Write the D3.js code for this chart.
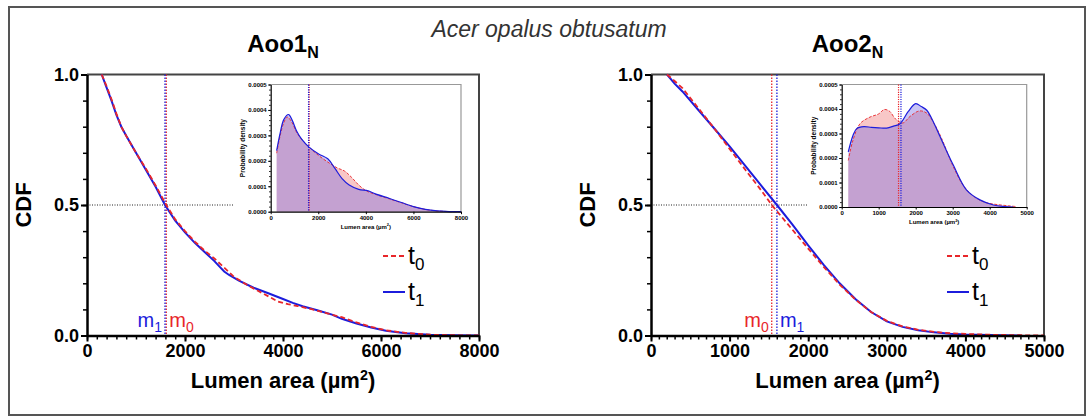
<!DOCTYPE html>
<html>
<head>
<meta charset="utf-8">
<script src="https://cdn.jsdelivr.net/npm/d3@7"></script>
<style>
body { margin: 0; background: #fff; }
svg { display: block; font-family: "Liberation Sans", Arial, sans-serif; }
</style>
</head>
<body>
<svg id="chart" width="1086" height="416"></svg>
<script>
// ---- data ----
const speciesTitle = "Acer opalus obtusatum";
const panelNames = ["Aoo1", "Aoo2"];
const seriesNames = ["0", "1"];   // t0, t1

// 1 - CDF of lumen area, [area, value]
const aoo1CdfT0 = [[300,1.0],[400,0.955],[500,0.905],[600,0.85],[700,0.80],[800,0.765],[1000,0.70],[1200,0.64],[1400,0.575],[1618,0.50],[1800,0.445],[2000,0.40],[2200,0.36],[2400,0.325],[2600,0.295],[2800,0.26],[3000,0.225],[3300,0.19],[3600,0.16],[3900,0.13],[4100,0.12],[4300,0.113],[4600,0.10],[4900,0.085],[5200,0.07],[5500,0.05],[5800,0.033],[6100,0.02],[6500,0.01],[7000,0.003],[7500,0.001],[8000,0]];
const aoo1CdfT1 = [[300,1.0],[400,0.95],[500,0.90],[600,0.845],[700,0.80],[800,0.765],[1000,0.70],[1200,0.635],[1400,0.57],[1592,0.50],[1800,0.44],[2000,0.395],[2200,0.355],[2400,0.32],[2600,0.285],[2700,0.265],[2800,0.245],[2900,0.232],[3100,0.21],[3400,0.183],[3700,0.162],[4000,0.14],[4200,0.125],[4400,0.112],[4700,0.097],[5000,0.08],[5200,0.064],[5500,0.046],[5800,0.031],[6100,0.018],[6500,0.009],[7000,0.003],[7500,0.001],[8000,0]];
const aoo2CdfT0 = [[204,1.0],[300,0.975],[400,0.948],[600,0.872],[800,0.795],[1000,0.715],[1200,0.635],[1400,0.557],[1536,0.50],[1800,0.405],[2000,0.333],[2200,0.262],[2400,0.195],[2600,0.138],[2800,0.09],[3000,0.056],[3200,0.035],[3400,0.022],[3600,0.014],[3800,0.009],[4000,0.006],[4300,0.003],[4700,0.001],[5000,0]];
const aoo2CdfT1 = [[204,1.0],[300,0.965],[400,0.935],[600,0.865],[800,0.795],[1000,0.725],[1200,0.65],[1400,0.575],[1602,0.50],[1800,0.425],[2000,0.345],[2200,0.27],[2400,0.20],[2600,0.14],[2800,0.09],[3000,0.054],[3200,0.033],[3400,0.02],[3600,0.012],[3800,0.007],[4000,0.004],[4300,0.002],[4700,0]];

// medians [t0, t1]
const aoo1Medians = [1618, 1592];
const aoo2Medians = [1536, 1602];

// probability density (insets), [area, density]
const aoo1PdfT0 = [[250,0.00023],[400,0.00030],[550,0.00035],[700,0.000372],[900,0.00035],[1100,0.00031],[1300,0.000285],[1600,0.000255],[2000,0.000222],[2400,0.000195],[2800,0.000172],[3100,0.00016],[3400,0.000135],[3700,0.000105],[4000,0.000083],[4400,0.000068],[5000,0.00005],[5500,0.000035],[6000,0.00002],[6500,0.000009],[7000,0.000003],[7500,0.0000005],[8000,0]];
const aoo1PdfT1 = [[250,0.00024],[400,0.00031],[550,0.000362],[750,0.000382],[900,0.00036],[1100,0.000315],[1300,0.000285],[1600,0.000255],[2000,0.000228],[2400,0.000208],[2700,0.00017],[3000,0.00013],[3300,0.000105],[3700,0.000088],[4100,0.000082],[4400,0.00007],[5000,0.000052],[5500,0.000036],[6000,0.00002],[6500,0.000009],[7000,0.000003],[7500,0.0000005],[8000,0]];
const aoo2PdfT0 = [[178,0.00019],[300,0.00027],[495,0.00034],[765,0.000367],[1000,0.00038],[1150,0.000398],[1300,0.00039],[1450,0.00036],[1650,0.000343],[1850,0.00037],[2100,0.000392],[2300,0.000383],[2500,0.00034],[2700,0.00028],[3000,0.00017],[3300,0.000085],[3600,0.00004],[3900,0.000018],[4200,0.00001],[4500,0.000005],[4700,0.000002]];
const aoo2PdfT1 = [[178,0.000225],[300,0.00029],[405,0.00032],[600,0.000328],[800,0.000325],[1000,0.000323],[1216,0.000322],[1400,0.00033],[1576,0.00034],[1800,0.00039],[2000,0.000422],[2150,0.00041],[2300,0.000395],[2500,0.00034],[2660,0.000287],[3016,0.000171],[3376,0.000069],[3736,0.000029],[4100,0.000008],[4400,0.000002],[4640,0]];

// ticks
const cdfTicks = [0, 0.5, 1.0];
const aoo1XTicks = [0, 2000, 4000, 6000, 8000];
const aoo2XTicks = [0, 1000, 2000, 3000, 4000, 5000];
const pdfTicks = [0, 0.0001, 0.0002, 0.0003, 0.0004, 0.0005];
const halfLineEnd = [3000, 2000];

const RED = "#e8262a";
const BLUE = "#1c1cdc";

const svg = d3.select("#chart");

// outer frame
svg.append("rect")
    .attr("x", 9).attr("y", 7)
    .attr("width", 1076).attr("height", 408)
    .attr("fill", "none")
    .attr("stroke", "#555")
    .attr("stroke-width", 2);

svg.append("text")
    .attr("x", 549).attr("y", 37)
    .attr("text-anchor", "middle")
    .style("font-size", "23px")
    .style("font-style", "italic")
    .style("fill", "#333")
    .text(speciesTitle);

function addSub(sel, main, sub, subSize, dy)
{
    sel.append("tspan").text(main);
    sel.append("tspan").attr("dy", dy).style("font-size", subSize + "px").text(sub);
}

function addAreaLabel(sel, size)
{
    sel.append("tspan").text("Lumen area (µm");
    sel.append("tspan").attr("dy", -size * 0.38).style("font-size", (size * 0.65) + "px").text("2");
    sel.append("tspan").attr("dy", size * 0.38).text(")");
}

function drawPanel(p)
{
    const top = 74.5, bottom = 335.5;
    const x = d3.scaleLinear().domain([0, p.xMax]).range([p.left, p.right]);
    const y = d3.scaleLinear().domain([0, 1]).range([bottom, top]);

    const g = svg.append("g");

    // top/right frame
    g.append("path")
        .attr("d", `M${p.left},${top}H${p.right}V${bottom}`)
        .attr("fill", "none")
        .attr("stroke", "#444")
        .attr("stroke-width", 2);

    // title
    const title = g.append("text")
        .attr("x", (p.left + p.right) / 2).attr("y", 52)
        .attr("text-anchor", "middle")
        .style("font-size", "24px")
        .style("font-weight", "bold");
    addSub(title, p.name, "N", 16, 6);

    // 0.5 reference line
    g.append("line")
        .attr("x1", x(0)).attr("x2", x(p.halfEnd))
        .attr("y1", y(0.5)).attr("y2", y(0.5))
        .attr("stroke", "#222")
        .attr("stroke-width", 1)
        .attr("stroke-dasharray", "1,1.5");

    // medians
    const medCols = [RED, BLUE];
    p.medians.forEach((m, i) =>
    {
        g.append("line")
            .attr("x1", x(m)).attr("x2", x(m))
            .attr("y1", top).attr("y2", bottom)
            .attr("stroke", medCols[i])
            .attr("stroke-width", 1.3)
            .attr("stroke-dasharray", "1.5,1.5");
    });
    const order = p.medians[0] <= p.medians[1] ? [0, 1] : [1, 0];
    order.forEach((idx, k) =>
    {
        const t = g.append("text")
            .attr("x", x(p.medians[idx]) + (k === 0 ? -3 : 3))
            .attr("y", 327)
            .attr("text-anchor", k === 0 ? "end" : "start")
            .style("font-size", "20px")
            .style("fill", medCols[idx]);
        addSub(t, "m", seriesNames[idx], 14, 5);
    });

    // cdf lines
    const line = d3.line().x(d => x(d[0])).y(d => y(d[1]));
    g.append("path")
        .datum(p.cdf[1])
        .attr("d", line)
        .attr("fill", "none")
        .attr("stroke", BLUE)
        .attr("stroke-width", 2);
    g.append("path")
        .datum(p.cdf[0])
        .attr("d", line)
        .attr("fill", "none")
        .attr("stroke", RED)
        .attr("stroke-width", 1.8)
        .attr("stroke-dasharray", "5,3");

    // axes
    const xMinor = d3.range(0, p.xMax + 1, p.xMinor);
    g.append("g")
        .attr("transform", `translate(0,${bottom})`)
        .call(d3.axisBottom(x).tickValues(xMinor).tickSize(4).tickFormat(""))
        .call(a => a.select(".domain").remove())
        .selectAll("line").attr("stroke-width", 1.5);
    const xa = g.append("g")
        .attr("transform", `translate(0,${bottom})`)
        .call(d3.axisBottom(x).tickValues(p.xTicks).tickSize(6).tickSizeOuter(0).tickPadding(3)
            .tickFormat(d3.format("d")));
    xa.select(".domain").attr("stroke-width", 2.5);
    xa.selectAll("line").attr("stroke-width", 2);
    xa.selectAll("text")
        .style("font-size", "18px")
        .style("font-weight", "bold")
        .attr("font-family", null);

    g.append("g")
        .attr("transform", `translate(${p.left},0)`)
        .call(d3.axisLeft(y).tickValues(d3.range(0, 1.01, 0.1)).tickSize(4).tickFormat(""))
        .call(a => a.select(".domain").remove())
        .selectAll("line").attr("stroke-width", 1.5);
    const ya = g.append("g")
        .attr("transform", `translate(${p.left},0)`)
        .call(d3.axisLeft(y).tickValues(cdfTicks).tickSize(6).tickSizeOuter(0).tickPadding(2)
            .tickFormat(d3.format(".1f")));
    ya.select(".domain").attr("stroke-width", 2.5);
    ya.selectAll("line").attr("stroke-width", 2);
    ya.selectAll("text")
        .style("font-size", "18px")
        .style("font-weight", "bold")
        .attr("font-family", null);

    // axis titles
    const xt = g.append("text")
        .attr("x", (p.left + p.right) / 2).attr("y", 388)
        .attr("text-anchor", "middle")
        .style("font-size", "22px")
        .style("font-weight", "bold");
    addAreaLabel(xt, 22);

    g.append("text")
        .attr("transform", `translate(${p.left - 56},${(top + bottom) / 2}) rotate(-90)`)
        .attr("text-anchor", "middle")
        .style("font-size", "22px")
        .style("font-weight", "bold")
        .text("CDF");

    // legend
    const lx = p.left + 296;
    [[0, 256, "5,3"], [1, 292, null]].forEach(([i, ly, dash]) =>
    {
        g.append("line")
            .attr("x1", lx).attr("x2", lx + 22)
            .attr("y1", ly).attr("y2", ly)
            .attr("stroke", medCols[i])
            .attr("stroke-width", 2)
            .attr("stroke-dasharray", dash);
        const t = g.append("text")
            .attr("x", lx + 25).attr("y", ly + 8)
            .style("font-size", "25px");
        addSub(t, "t", seriesNames[i], 17, 6);
    });

    drawInset(p);
}

function drawInset(p)
{
    const ins = p.inset;
    const x = d3.scaleLinear().domain([0, p.xMax]).range([ins.left, ins.right]);
    const y = d3.scaleLinear().domain([0, 0.0005]).range([ins.bottom, ins.top]);
    const g = svg.append("g");

    g.append("path")
        .attr("d", `M${ins.left},${ins.top}H${ins.right}V${ins.bottom}`)
        .attr("fill", "none")
        .attr("stroke", "#999")
        .attr("stroke-width", 1.2);

    const curve = d3.curveCatmullRom.alpha(0.5);
    const area = d3.area().curve(curve)
        .x(d => x(d[0])).y0(y(0)).y1(d => y(d[1]));
    const line = d3.line().curve(curve)
        .x(d => x(d[0])).y(d => y(d[1]));

    g.append("path").datum(p.pdf[0]).attr("d", area)
        .attr("fill", "rgb(240,130,130)").attr("fill-opacity", 0.45);
    g.append("path").datum(p.pdf[1]).attr("d", area)
        .attr("fill", "rgb(110,100,225)").attr("fill-opacity", 0.38);

    const medCols = [RED, BLUE];
    p.medians.forEach((m, i) =>
    {
        g.append("line")
            .attr("x1", x(m)).attr("x2", x(m))
            .attr("y1", ins.top).attr("y2", ins.bottom)
            .attr("stroke", medCols[i])
            .attr("stroke-width", 1.2)
            .attr("stroke-dasharray", "1.2,1.2");
    });

    g.append("path").datum(p.pdf[0]).attr("d", line)
        .attr("fill", "none").attr("stroke", RED)
        .attr("stroke-width", 0.9).attr("stroke-dasharray", "3,1.5");
    g.append("path").datum(p.pdf[1]).attr("d", line)
        .attr("fill", "none").attr("stroke", BLUE)
        .attr("stroke-width", 1.2);

    const xa = g.append("g")
        .attr("transform", `translate(0,${ins.bottom})`)
        .call(d3.axisBottom(x).tickValues(p.xTicks).tickSize(2.5).tickSizeOuter(0).tickPadding(1.5)
            .tickFormat(d3.format("d")));
    const ya = g.append("g")
        .attr("transform", `translate(${ins.left},0)`)
        .call(d3.axisLeft(y).tickValues(pdfTicks).tickSize(2.5).tickSizeOuter(0).tickPadding(1.5)
            .tickFormat(d3.format(".4f")));
    g.append("g")
        .attr("transform", `translate(${ins.left},0)`)
        .call(d3.axisLeft(y).tickValues(d3.range(0, 0.00051, 0.00002)).tickSize(1.5).tickFormat(""))
        .call(a => a.select(".domain").remove());
    [xa, ya].forEach(a =>
    {
        a.select(".domain").attr("stroke-width", 1.2);
        a.selectAll("text")
            .style("font-size", "6px")
            .style("font-weight", "bold")
            .attr("font-family", null);
    });

    const xt = g.append("text")
        .attr("x", (ins.left + ins.right) / 2).attr("y", ins.bottom + 17)
        .attr("text-anchor", "middle")
        .style("font-size", "6px")
        .style("font-weight", "bold");
    addAreaLabel(xt, 6);

    g.append("text")
        .attr("transform", `translate(${ins.left - 26},${(ins.top + ins.bottom) / 2}) rotate(-90)`)
        .attr("text-anchor", "middle")
        .style("font-size", "6.5px")
        .style("font-weight", "bold")
        .text("Probability density");
}

drawPanel({
    name: panelNames[0], left: 87, right: 479, xMax: 8000, xMinor: 200,
    xTicks: aoo1XTicks, halfEnd: halfLineEnd[0], medians: aoo1Medians,
    cdf: [aoo1CdfT0, aoo1CdfT1], pdf: [aoo1PdfT0, aoo1PdfT1],
    inset: {left: 270.7, right: 461, top: 84.5, bottom: 211.7}
});
drawPanel({
    name: panelNames[1], left: 651, right: 1044, xMax: 5000, xMinor: 100,
    xTicks: aoo2XTicks, halfEnd: halfLineEnd[1], medians: aoo2Medians,
    cdf: [aoo2CdfT0, aoo2CdfT1], pdf: [aoo2PdfT0, aoo2PdfT1],
    inset: {left: 841.7, right: 1026.7, top: 84.5, bottom: 207}
});
</script>
</body>
</html>
